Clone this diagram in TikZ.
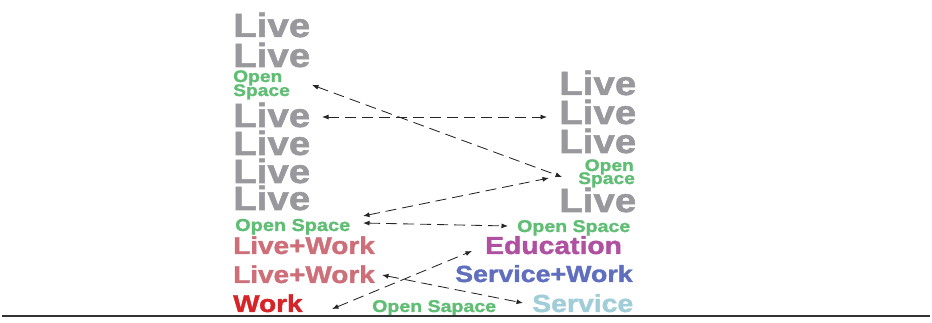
\documentclass[tikz,border=0pt]{standalone}
\usepackage{fontspec}
\newfontfamily\hv{Liberation Sans Bold}[FakeStretch=1.15,FakeBold=1.5]
\usetikzlibrary{arrows.meta}
\definecolor{cgray}{RGB}{152,152,157}
\definecolor{cgreen}{RGB}{95,190,115}
\definecolor{clw}{RGB}{205,110,120}
\definecolor{cwork}{RGB}{215,35,40}
\definecolor{cedu}{RGB}{175,80,160}
\definecolor{csw}{RGB}{95,110,190}
\definecolor{cserv}{RGB}{160,205,215}
\newcommand\fsz[1]{\fontsize{#1}{#1}\selectfont}
\tikzset{
  lbl/.style={inner sep=0pt, anchor=base west},
  lblr/.style={inner sep=0pt, anchor=base east},
  big/.style={font=\hv\fsz{33.5}, text=cgray, text height=24pt, text depth=0pt},
  sml/.style={font=\hv\fsz{16.7}, text=cgreen, text height=12pt, text depth=1.5pt},
  mid/.style={text height=17.5pt, text depth=0pt},
  grn/.style={text=cgreen, text height=12.3pt, text depth=2pt},
  conn/.style={draw=black!85, line width=0.85pt, dash pattern=on 11pt off 6pt,
    {Latex[length=6.5pt,width=5pt]}-{Latex[length=6.5pt,width=5pt]}},
}
\begin{document}
\begin{tikzpicture}[x=1pt,y=-1pt]
\useasboundingbox (0,0) rectangle (932,323);
% left column
\node[lbl,big] (l1) at (233,37) {Live};
\node[lbl,big] (l2) at (233,67) {Live};
\node[lbl,sml] (lo) at (233,82) {Open};
\node[lbl,sml] (ls) at (233,96) {Space};
\node[lbl,big] (l3) at (233,127) {Live};
\node[lbl,big] (l4) at (233,155) {Live};
\node[lbl,big] (l5) at (233,183) {Live};
\node[lbl,big] (l6) at (233,210) {Live};
\node[lbl,grn,font=\hv\fsz{17.3}] (los) at (235,231) {Open Space};
\node[lbl,mid,font=\hv\fsz{24.3},text=clw] (lw1) at (233,254) {Live+Work};
\node[lbl,mid,font=\hv\fsz{24.3},text=clw] (lw2) at (233,283) {Live+Work};
\node[lbl,mid,font=\hv\fsz{24.3},text=cwork] (wk) at (233,312) {Work};
% right column
\node[lbl,big] (r1) at (559,95) {Live};
\node[lbl,big] (r2) at (559,124) {Live};
\node[lbl,big] (r3) at (559,153) {Live};
\node[lblr,sml] (ro) at (634,171) {Open};
\node[lblr,sml] (rs) at (635,184) {Space};
\node[lbl,big] (r4) at (559,212) {Live};
\node[lbl,grn,font=\hv\fsz{17.0}] (ros) at (517,232) {Open Space};
\node[lbl,mid,font=\hv\fsz{24.6},text=cedu] (edu) at (485,254) {Education};
\node[lbl,mid,font=\hv\fsz{23.3},text=csw] (sw) at (455,282) {Service+Work};
\node[lbl,mid,font=\hv\fsz{24.7},text=cserv] (sv) at (532,312) {Service};
\node[lbl,grn,font=\hv\fsz{17.0}] (osa) at (372,312) {Open Sapace};
% connector ends
\coordinate (a1) at (312,85);  \coordinate (b1) at (562,177);
\coordinate (a2) at (322,117); \coordinate (b2) at (547,117);
\coordinate (a3) at (363,216); \coordinate (b3) at (549,178);
\coordinate (a4) at (363,223); \coordinate (b4) at (508,226);
\coordinate (a5) at (332,309); \coordinate (b5) at (472,251);
\coordinate (a6) at (382,275); \coordinate (b6) at (523,303);
\draw[conn] (a1) -- (b1);
\draw[conn] (a2) -- (b2);
\draw[conn] (a3) -- (b3);
\draw[conn] (a4) -- (b4);
\draw[conn] (a5) -- (b5);
\draw[conn] (a6) -- (b6);
% base line
\coordinate (g1) at (2,316); \coordinate (g2) at (930,316);
\draw[line width=2.8pt, draw=black!80] (g1) -- (g2);
\end{tikzpicture}
\end{document}
